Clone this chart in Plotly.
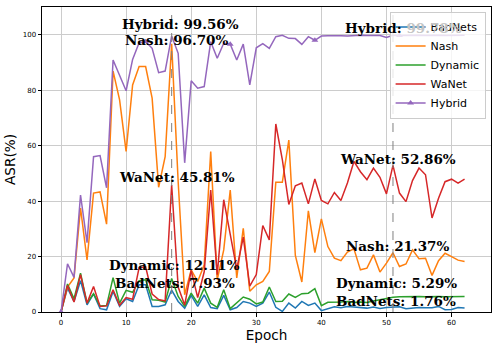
import plotly.graph_objects as go

# ASR per epoch for each attack (epochs 0..62)
epochs = list(range(63))

badnets = [0,
           8.6, 3.8, 11.3, 2.6, 6.5, 1.2, 0.8, 7.4, 2.0, 4.8,
           3.8, 9.8, 9.8, 2.0, 2.0, 2.6, 7.93, 3.8, 1.4, 6.0,
           2.0, 6.2, 1.6, 1.2, 6.0, 0.8, 1.6, 3.8, 3.2, 2.0,
           3.2, 7.2, 1.7, 0.2, 3.2, 1.4, 3.8, 2.4, 3.2, 0.5,
           1.1, 1.9, 1.5, 2.0, 1.8, 1.6, 1.4, 1.8, 1.3, 1.6,
           1.76, 1.9, 1.2, 1.4, 1.6, 1.5, 1.5, 2.0, 0.8, 0.9,
           1.6, 1.4]

nash = [0,
        9.0, 12.3, 37.5, 18.8, 42.9, 43.3, 31.7, 86.9, 76.5, 57.9,
        81.9, 88.5, 88.5, 77.1, 45.0, 56.0, 96.70, 47.0, 6.2, 15.2,
        11.0, 17.0, 57.9, 11.6, 22.4, 44.0, 12.3, 30.2, 7.5, 9.8,
        11.0, 14.6, 46.8, 46.8, 62.0, 20.4, 10.8, 36.5, 21.4, 33.6,
        23.6, 19.4, 18.5, 21.6, 22.8, 15.2, 15.8, 20.6, 14.4, 17.6,
        21.37, 16.4, 17.3, 22.4, 19.2, 19.4, 13.2, 18.5, 21.2, 20.0,
        18.7, 18.2]

dynamic = [0,
           10.1, 4.8, 14.0, 3.2, 6.6, 2.2, 2.3, 12.4, 3.2, 7.8,
           7.1, 11.3, 11.6, 4.4, 4.2, 3.6, 12.11, 5.6, 2.0, 6.8,
           3.2, 8.6, 3.2, 1.7, 8.0, 1.2, 3.2, 5.4, 4.6, 2.9,
           3.6, 9.0, 3.8, 3.9, 6.5, 5.3, 6.6, 6.8, 8.4, 2.3,
           3.5, 3.5, 3.6, 3.8, 3.4, 3.6, 3.4, 4.0, 4.5, 5.0,
           5.29, 5.5, 5.6, 5.5, 5.6, 5.5, 5.6, 5.6, 5.5, 5.6,
           5.6, 5.6]

wanet = [0,
         9.6, 3.6, 13.5, 3.2, 9.2, 2.0, 2.2, 8.0, 2.4, 5.2,
         4.6, 16.0, 16.3, 6.5, 4.5, 4.0, 45.81, 9.0, 2.5, 15.0,
         5.2, 14.5, 44.0, 13.5, 40.5, 28.0, 15.5, 27.0, 9.3, 13.5,
         31.2, 26.0, 67.8, 55.0, 38.8, 45.5, 46.5, 39.0, 48.0, 40.2,
         39.0, 43.1, 40.2, 46.5, 54.3, 50.6, 47.7, 51.9, 48.6, 42.6,
         52.86, 42.9, 39.8, 47.4, 51.9, 49.5, 33.9, 41.0, 47.0, 47.9,
         46.5, 47.9]

hybrid = [0,
          17.4, 12.5, 42.2, 25.0, 56.0, 56.4, 44.8, 90.9, 85.5, 79.8,
          91.1, 97.1, 97.5, 95.1, 86.3, 86.9, 99.56, 93.3, 53.8, 83.4,
          80.7, 81.3, 97.5, 91.5, 96.9, 96.6, 90.9, 96.6, 81.9, 95.3,
          96.8, 95.1, 99.3, 99.8, 98.7, 98.6, 96.5, 99.3, 98.0, 99.5,
          99.6, 99.7, 99.6, 99.5, 99.7, 99.8, 99.7, 99.8, 99.7, 99.0,
          99.78, 99.7, 99.8, 99.7, 99.8, 99.7, 99.8, 99.8, 99.7, 99.8,
          99.7, 99.8]

# epochs highlighted with dashed lines + value labels
highlight_epochs = [17, 51]

series = [
    ('BadNets', badnets, '#1f77b4'),
    ('Nash', nash, '#ff7f0e'),
    ('Dynamic', dynamic, '#2ca02c'),
    ('WaNet', wanet, '#d62728'),
    ('Hybrid', hybrid, '#9467bd'),
]

fig = go.Figure()

for name, vals, color in series[:4]:
    fig.add_trace(go.Scatter(x=epochs, y=vals, mode='lines', name=name,
                             line=dict(color=color, width=1.5)))

# hybrid: line with a triangle every 13 epochs
h_color = series[4][2]
mark_x = epochs[::13]
mark_y = hybrid[::13]
fig.add_trace(go.Scatter(x=epochs, y=hybrid, mode='lines', name='Hybrid',
                         line=dict(color=h_color, width=1.5), showlegend=False))
fig.add_trace(go.Scatter(x=mark_x, y=mark_y, mode='markers', name='Hybrid',
                         marker=dict(symbol='triangle-up', size=6, color=h_color),
                         showlegend=False))
fig.add_trace(go.Scatter(x=[None], y=[None], mode='lines+markers', name='Hybrid',
                         line=dict(color=h_color, width=1.5),
                         marker=dict(symbol='triangle-up', size=6, color=h_color)))

for e in highlight_epochs:
    fig.add_vline(x=e, line=dict(color='#808080', width=1, dash='dash'))

# label placement (x offset, y centre) per epoch
label_pos = {
    17: {'Hybrid': (1.3, 104.0), 'Nash': (0.75, 98.0), 'WaNet': (0.8, 48.7),
         'Dynamic': (0.5, 16.9), 'BadNets': (0.5, 10.4)},
    51: {'Hybrid': (1.6, 102.6), 'WaNet': (0.8, 55.3), 'Nash': (0.7, 23.9),
         'Dynamic': (0.6, 10.3), 'BadNets': (0.5, 4.1)},
}

for e in highlight_epochs:
    for name, vals, color in series:
        dx, ly = label_pos[e][name]
        if e == 51 and name == 'Hybrid':
            # the value sits behind the translucent legend box
            txt = f"<b>{name}:<span style='color:#c4c4c4'> {vals[e]:.2f}%</span></b>"
        else:
            txt = f"<b>{name}: {vals[e]:.2f}%</b>"
        fig.add_annotation(x=e + dx, y=ly, text=txt,
                           showarrow=False, xanchor='center', yanchor='middle',
                           font=dict(family='DejaVu Serif', size=13.5, color='black'))

axis_common = dict(showline=True, mirror=True, linecolor='black', linewidth=1,
                   ticks='outside', ticklen=3.5, tickcolor='black',
                   showgrid=True, gridcolor='#cccccc', gridwidth=1, zeroline=False,
                   tickfont=dict(family='DejaVu Sans', size=7, color='black'))

fig.update_layout(
    width=498, height=349,
    margin=dict(l=42, r=7, t=7, b=37),
    plot_bgcolor='white', paper_bgcolor='white',
    xaxis=dict(range=[-2.92, 66.06], tickvals=[0, 10, 20, 30, 40, 50, 60],
               title=dict(text='Epoch', standoff=2,
                          font=dict(family='DejaVu Sans', size=13.6, color='black')),
               **axis_common),
    yaxis=dict(range=[0, 110], tickvals=[0, 20, 40, 60, 80, 100],
               title=dict(text='ASR(%)', standoff=3,
                          font=dict(family='DejaVu Sans', size=13.6, color='black')),
               **axis_common),
    legend=dict(x=0.988, y=0.985, xanchor='right', yanchor='top', itemwidth=30,
                bgcolor='rgba(255,255,255,0.8)', bordercolor='#cccccc', borderwidth=1,
                font=dict(family='DejaVu Sans', size=11, color='black')),
    showlegend=True,
)

fig.write_html("out.html", config={'displayModeBar': False},
               post_script="document.body.style.margin='0';")
